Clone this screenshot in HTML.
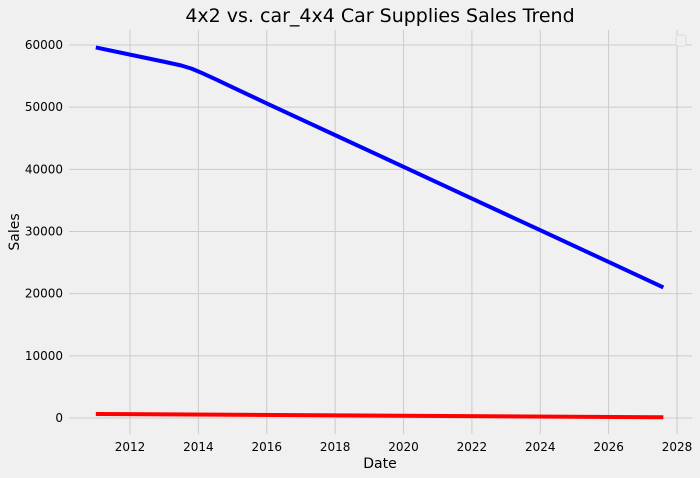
<!DOCTYPE html>
<html><head><meta charset="utf-8"><style>
body{margin:0;background:#f0f0f0;}
svg{display:block;font-family:"DejaVu Sans","Liberation Sans",sans-serif;}
</style></head><body>
<svg id="chart" width="700" height="478" viewBox="0 0 700 478">
<rect width="700" height="478" fill="#f0f0f0"/>
<text x="380" y="22" font-size="19" text-anchor="middle" fill="#000">4x2 vs. car_4x4 Car Supplies Sales Trend</text>
<text x="380" y="468" font-size="14" text-anchor="middle">Date</text>
<text transform="translate(19,232) rotate(-90)" font-size="14" text-anchor="middle">Sales</text>
<g id="grid"></g><g id="ticks"></g><g id="series"></g>
<rect x="676" y="35" width="10" height="11" rx="2" fill="#f0f0f0" stroke="#ddd"/>
</svg>
<script>
const xTicks=[2012,2014,2016,2018,2020,2022,2024,2026,2028];
const yTicks=[0,10000,20000,30000,40000,50000,60000];
const blueYears=[2011.0,2012,2013,2013.5,2013.8,2014.1,2014.5,2015,2016,2018,2020,2022,2024,2026,2027.6];
const blueSales=[59600,58450,57300,56700,56200,55500,54500,53200,50600,45500,40400,35300,30200,25100,21000];
const redYears=[2011.0,2027.6];
const redSales=[650,120];
const L=69,R=692,T=30,B=434;
const xs=v=>130+(v-2012)*34.19;
const ys=v=>418-v*0.006217;
const NS="http://www.w3.org/2000/svg";
function mk(t,a,p){const e=document.createElementNS(NS,t);for(const k in a)e.setAttribute(k,a[k]);p.appendChild(e);return e;}
const g=document.getElementById('grid'),tk=document.getElementById('ticks'),s=document.getElementById('series');
xTicks.forEach(v=>{
 const l=mk('line',{x1:xs(v),x2:xs(v),y1:T,y2:B,stroke:'#cbcbcb','stroke-width':1},g);
 
 
 const t=mk('text',{x:xs(v),y:451,'font-size':12,'text-anchor':'middle'},tk);t.textContent=v;
 
 
});
yTicks.forEach(v=>{
 const l=mk('line',{x1:L,x2:R,y1:ys(v),y2:ys(v),stroke:'#cbcbcb','stroke-width':1},g);
 
 
 const t=mk('text',{x:63,y:ys(v)+4,'font-size':12,'text-anchor':'end'},tk);t.textContent=v;
 
 
});
const b=mk('polyline',{points:blueYears.map((y,i)=>xs(y)+','+ys(blueSales[i])).join(' '),fill:'none',stroke:'#0000ff','stroke-width':4,'stroke-linejoin':'round'},s);


const r=mk('polyline',{points:redYears.map((y,i)=>xs(y)+','+ys(redSales[i])).join(' '),fill:'none',stroke:'#ff0000','stroke-width':4},s);


</script>
</body></html>
